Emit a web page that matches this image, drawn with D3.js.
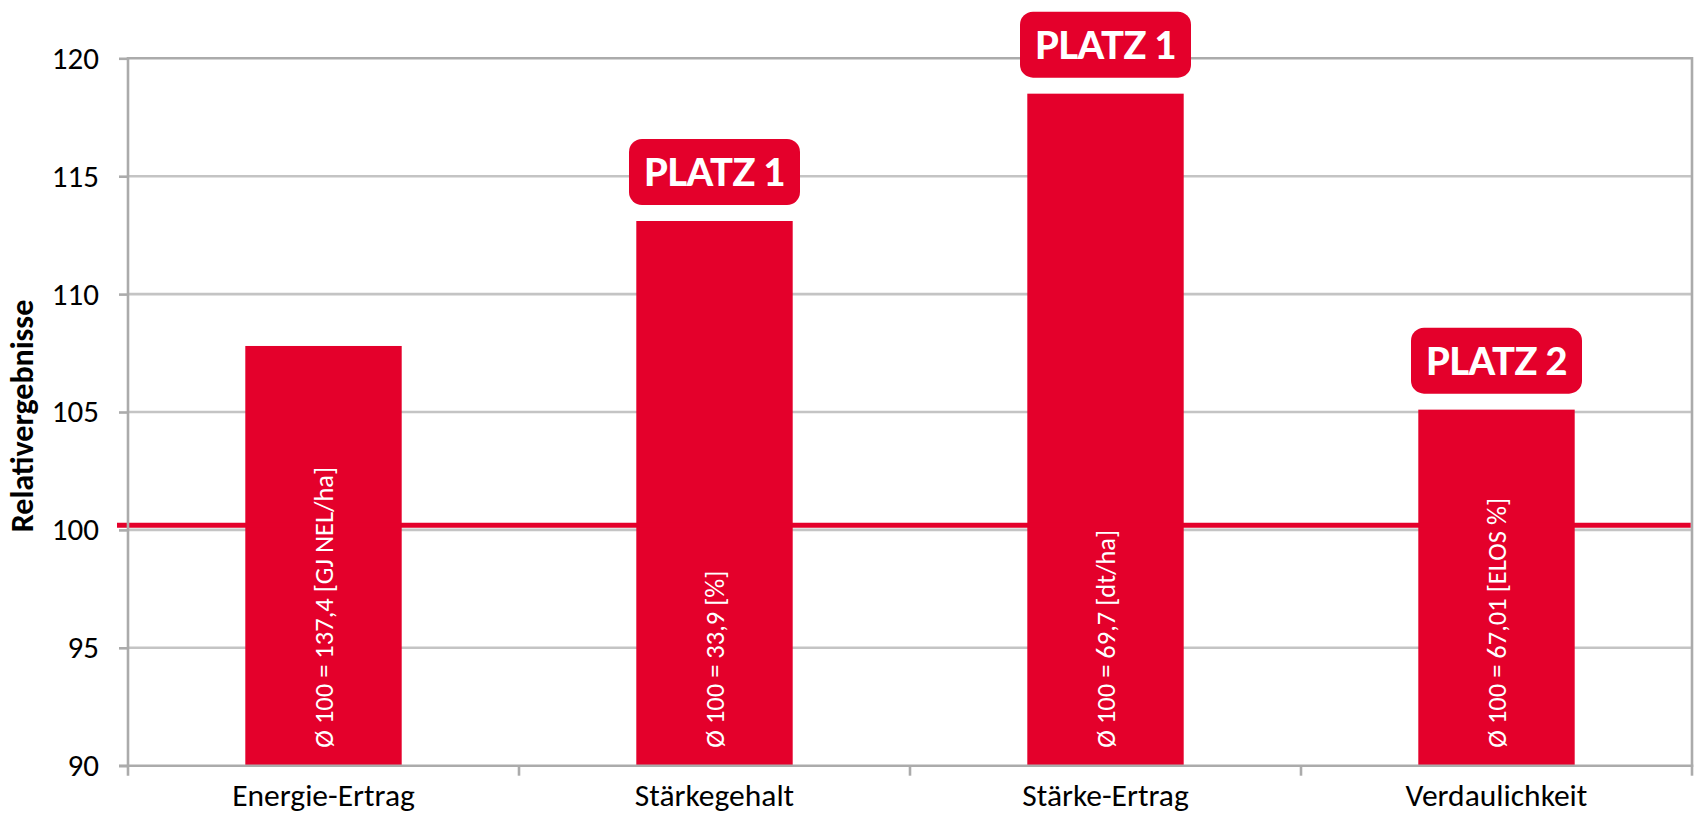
<!DOCTYPE html>
<html>
<head>
<meta charset="utf-8">
<script src="https://cdn.jsdelivr.net/npm/d3@7"></script>
<style>
  html, body { margin: 0; padding: 0; background: #fff; }
  svg { display: block; }
</style>
</head>
<body>
<svg id="chart" width="1696" height="813"></svg>
<script>
// ---- data ----
const categories = ["Energie-Ertrag", "Stärkegehalt", "Stärke-Ertrag", "Verdaulichkeit"];
const values = [107.8, 113.1, 118.5, 105.1];
const barNotes = ["Ø 100 = 137,4 [GJ NEL/ha]", "Ø 100 = 33,9 [%]", "Ø 100 = 69,7 [dt/ha]", "Ø 100 = 67,01 [ELOS %]"];
const rankLabels = [null, "PLATZ 1", "PLATZ 1", "PLATZ 2"];
const yTicks = [90, 95, 100, 105, 110, 115, 120];
const referenceValue = 100.2;
const yTitle = "Relativergebnisse";

// ---- layout ----
const plotLeft = 128, plotRight = 1692, plotTop = 58.3, plotBottom = 765.7;
const RED = "#E4002B";
const FONT = "Carlito, Calibri, Lato, sans-serif";

const svg = d3.select("#chart");

const x = d3.scaleBand().domain(categories).range([plotLeft, plotRight]).paddingInner(0.6).paddingOuter(0.3);
const y = d3.scaleLinear().domain([90, 120]).range([plotBottom, plotTop]);

// gridlines
svg.append("g").selectAll("line").data(yTicks.filter(t => t > 90)).join("line")
  .attr("x1", plotLeft).attr("x2", plotRight)
  .attr("y1", d => y(d)).attr("y2", d => y(d))
  .attr("stroke", d => d === 120 ? "#ababab" : "#c4c4c4").attr("stroke-width", 2.6);

// right border
svg.append("line").attr("x1", plotRight).attr("x2", plotRight).attr("y1", plotTop - 1.3).attr("y2", plotBottom)
  .attr("stroke", "#ababab").attr("stroke-width", 2.6);

// bars
svg.append("g").selectAll("rect").data(values).join("rect")
  .attr("x", (d, i) => x(categories[i]))
  .attr("width", x.bandwidth())
  .attr("y", d => y(d))
  .attr("height", d => y(90) - y(d))
  .attr("fill", RED);

// reference line at ~100
svg.append("line").attr("x1", 117).attr("x2", plotRight - 1.3)
  .attr("y1", y(referenceValue)).attr("y2", y(referenceValue))
  .attr("stroke", RED).attr("stroke-width", 5);

// y axis
const yAxis = d3.axisLeft(y).tickValues(yTicks).tickSize(9).tickPadding(20).tickFormat(d3.format("d"));
const gy = svg.append("g").attr("transform", `translate(${plotLeft},0)`).call(yAxis);
gy.select(".domain").attr("d", `M0,${plotTop - 1.3}V${plotBottom + 10}`).attr("stroke", "#ababab").attr("stroke-width", 2.6);
gy.selectAll(".tick line").attr("stroke", "#ababab").attr("stroke-width", 2.6);
gy.selectAll(".tick text").attr("font-family", FONT).attr("font-size", 31).attr("fill", "#000");

// x axis
const xAxis = d3.axisBottom(x).tickSize(0).tickPadding(20);
const gx = svg.append("g").attr("transform", `translate(0,${plotBottom})`).call(xAxis);
gx.select(".domain").attr("d", `M${plotLeft - 9},0H${plotRight + 1.3}`).attr("stroke", "#ababab").attr("stroke-width", 2.6);
gx.selectAll(".tick text").attr("font-family", FONT).attr("font-size", 31.5).attr("fill", "#000").attr("dy", "0.64em");
// category boundary ticks
const step = x.step();
const bounds = d3.range(categories.length + 1).map(i => x(categories[0]) - x.paddingOuter() * step + i * step);
svg.append("g").selectAll("line").data(bounds.slice(1)).join("line")
  .attr("x1", d => d).attr("x2", d => d).attr("y1", plotBottom).attr("y2", plotBottom + 10)
  .attr("stroke", "#ababab").attr("stroke-width", 2.6);

// y title
svg.append("text")
  .attr("transform", `translate(32.5,${(plotTop + plotBottom) / 2 + 4}) rotate(-90)`)
  .attr("text-anchor", "middle")
  .attr("font-family", FONT).attr("font-weight", 700).attr("font-size", 32)
  .attr("fill", "#000").text(yTitle);

// notes inside bars
svg.append("g").selectAll("text").data(barNotes).join("text")
  .attr("transform", (d, i) => `translate(${x(categories[i]) + x.bandwidth() / 2 + 9},${plotBottom - 18}) rotate(-90)`)
  .attr("text-anchor", "start")
  .attr("font-family", FONT).attr("font-size", 26.5)
  .attr("fill", "#fff").text(d => d);

// rank badges
const badgeW = 171, badgeH = 66;
const badges = svg.append("g").selectAll("g").data(values.map((v, i) => ({v, i, label: rankLabels[i]})).filter(d => d.label)).join("g")
  .attr("transform", d => `translate(${x(categories[d.i]) + x.bandwidth() / 2},${y(d.v) - 16 - badgeH})`);
badges.append("rect")
  .attr("x", -badgeW / 2).attr("y", 0).attr("width", badgeW).attr("height", badgeH)
  .attr("rx", 13).attr("fill", RED);
badges.append("text")
  .attr("x", 0).attr("y", badgeH / 2 + 14)
  .attr("text-anchor", "middle")
  .attr("font-family", "Lato, sans-serif").attr("font-weight", 900).attr("font-size", 38)
  .attr("letter-spacing", -0.5)
  .attr("fill", "#fff").text(d => d.label);
</script>
</body>
</html>
